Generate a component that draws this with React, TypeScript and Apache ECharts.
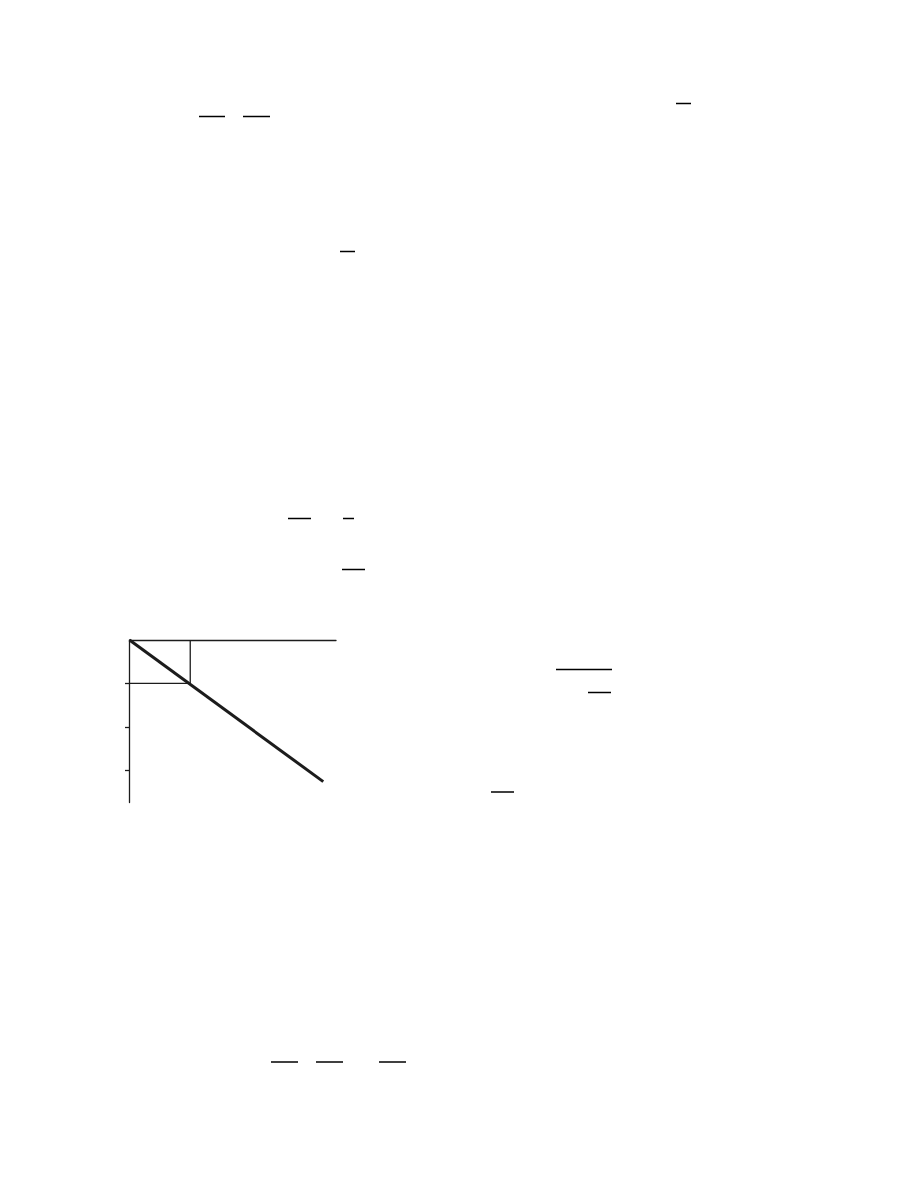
import React from "react";
import * as echarts from "echarts";

// line through the origin (x right, y down)
const lineX = [0, 3.19];
const lineY = [0, 3.26];

// the small box drawn against the line at x = 1
const boxX = [0, 1, 1];
const boxY = [1, 1, 0];

const yTicks = [1, 2, 3];

// short rules left on the page by the surrounding text (page pixels)
const pageRules: [number, number, number][] = [
    [199, 225, 116.5],
    [243, 270, 116.5],
    [676, 691, 103.5],
    [340, 355, 251.5],
    [288, 311, 518.5],
    [343, 354, 518.5],
    [342, 365, 569.5],
    [556, 612, 669.5],
    [588, 611, 692.5],
    [491, 514, 792],
    [271, 298, 1062],
    [316, 343, 1062],
    [379, 406, 1062],
];

const INK = "#1c1c1c";

const App: React.FC = () => {
    const chartRef = React.useRef<HTMLDivElement>(null);

    React.useEffect(() => {
        if (!chartRef.current) return;

        const chart = echarts.init(chartRef.current, undefined, {
            renderer: "svg",
        });

        const option = {
            animation: false,
            backgroundColor: "#ffffff",
            grid: {
                left: 129.5,
                top: 640,
                width: 206.5,
                height: 162.5,
                containLabel: false,
            },
            xAxis: {
                type: "value",
                position: "top",
                min: 0,
                max: 3.4,
                axisLine: {
                    show: true,
                    onZero: false,
                    lineStyle: { color: INK, width: 1.3 },
                },
                axisTick: { show: false },
                axisLabel: { show: false },
                splitLine: { show: false },
            },
            yAxis: {
                type: "value",
                inverse: true,
                min: 0,
                max: 3.74,
                interval: 1,
                axisLine: {
                    show: true,
                    onZero: false,
                    lineStyle: { color: INK, width: 1.3 },
                },
                axisTick: {
                    show: true,
                    inside: false,
                    length: 4.5,
                    customValues: yTicks,
                    lineStyle: { color: INK, width: 1.3 },
                },
                axisLabel: { show: false },
                splitLine: { show: false },
            },
            series: [
                {
                    name: "box",
                    type: "line",
                    symbol: "none",
                    silent: true,
                    lineStyle: { color: INK, width: 1.3 },
                    data: boxX.map((x, i) => [x, boxY[i]]),
                },
                {
                    name: "line",
                    type: "line",
                    symbol: "none",
                    silent: true,
                    lineStyle: { color: INK, width: 3 },
                    data: lineX.map((x, i) => [x, lineY[i]]),
                },
            ],
            graphic: pageRules.map(([x1, x2, y]) => ({
                type: "line",
                silent: true,
                shape: { x1, y1: y, x2, y2: y },
                style: { stroke: "#000000", lineWidth: 1.5 },
            })),
        };

        chart.setOption(option as any);

        return () => {
            chart.dispose();
        };
    }, []);

    return (
        <div
            ref={chartRef}
            style={{
                position: "absolute",
                left: 0,
                top: 0,
                width: "918px",
                height: "1188px",
            }}
        />
    );
};

export default App;
